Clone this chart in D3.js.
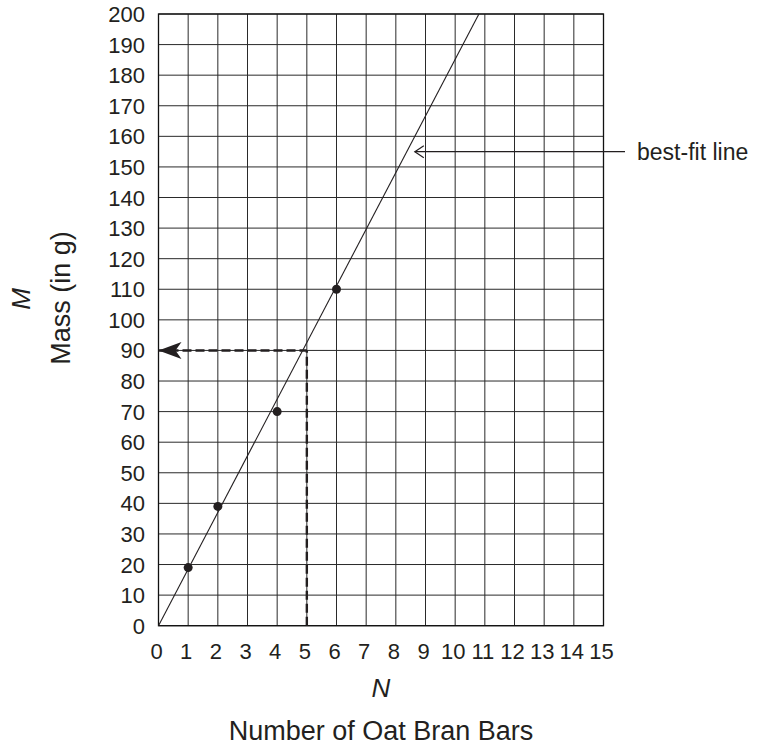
<!DOCTYPE html>
<html>
<head>
<meta charset="utf-8">
<script src="https://cdn.jsdelivr.net/npm/d3@7"></script>
<style>
  body { margin: 0; background: #fff; }
  text { font-family: "Liberation Sans", Arial, Helvetica, sans-serif; fill: #231f20; }
</style>
</head>
<body>
<div id="main"></div>
<script>
// data
const barCounts = [1, 2, 4, 6];
const massValues = [19, 39, 70, 110];
const xTickLabels = [0, 1, 2, 3, 4, 5, 6, 7, 8, 9, 10, 11, 12, 13, 14, 15];
const yTickLabels = [0, 10, 20, 30, 40, 50, 60, 70, 80, 90, 100, 110, 120, 130, 140, 150, 160, 170, 180, 190, 200];
const bestFitN = [0, 10.8];
const bestFitM = [0, 200];
const readN = 5;      // dashed read-off
const readM = 90;
const calloutM = 155; // "best-fit line" pointer

const ctx = {
    width: 768,
    height: 745,
    left: 158.5,
    right: 603.5,
    top: 14,
    bottom: 625.7,
};

let x = d3.scaleLinear().domain([0, 15]).range([ctx.left, ctx.right]);
let y = d3.scaleLinear().domain([0, 200]).range([ctx.bottom, ctx.top]);

function drawChart() {
    let svg = d3.select("#main").append("svg")
        .attr("width", ctx.width)
        .attr("height", ctx.height);

    svg.append("rect").attr("width", ctx.width).attr("height", ctx.height).attr("fill", "#fff");

    // grid
    let grid = svg.append("g");
    grid.selectAll("line.v")
        .data(xTickLabels)
        .enter().append("line")
        .attr("x1", d => x(d)).attr("x2", d => x(d))
        .attr("y1", y(0)).attr("y2", y(200))
        .attr("stroke", "#2a2a2a").attr("stroke-width", 1);
    grid.selectAll("line.h")
        .data(yTickLabels)
        .enter().append("line")
        .attr("x1", x(0)).attr("x2", x(15))
        .attr("y1", d => y(d)).attr("y2", d => y(d))
        .attr("stroke", "#2a2a2a").attr("stroke-width", 1);

    // frame, a bit heavier
    svg.append("rect")
        .attr("x", x(0)).attr("y", y(200))
        .attr("width", x(15) - x(0)).attr("height", y(0) - y(200))
        .attr("fill", "none").attr("stroke", "#111").attr("stroke-width", 1.3);

    // tick labels
    svg.append("g").selectAll("text")
        .data(xTickLabels)
        .enter().append("text")
        .attr("x", d => x(d) - 2)
        .attr("y", 659)
        .attr("text-anchor", "middle")
        .attr("font-size", 22)
        .text(d => d);

    svg.append("g").selectAll("text")
        .data(yTickLabels)
        .enter().append("text")
        .attr("x", 145)
        .attr("y", d => y(d) + 8)
        .attr("text-anchor", "end")
        .attr("font-size", 22)
        .text(d => d);

    // best-fit line
    let line = d3.line().x(d => x(d[0])).y(d => y(d[1]));
    svg.append("path")
        .datum(d3.zip(bestFitN, bestFitM))
        .attr("d", line)
        .attr("fill", "none")
        .attr("stroke", "#231f20")
        .attr("stroke-width", 1.1);

    // dashed read-off
    svg.append("path")
        .datum([[readN, 0], [readN, readM]])
        .attr("d", line)
        .attr("fill", "none").attr("stroke", "#231f20")
        .attr("stroke-width", 2.4).attr("stroke-dasharray", "9,4");
    svg.append("path")
        .datum([[0, readM], [readN, readM]])
        .attr("d", line)
        .attr("fill", "none").attr("stroke", "#231f20")
        .attr("stroke-width", 2.4).attr("stroke-dasharray", "9,4")
        .attr("stroke-dashoffset", 2);
    // arrowhead at the axis
    svg.append("path")
        .attr("d", `M${x(0)},${y(readM)} L${x(0) + 23},${y(readM) - 8.5} L${x(0) + 17},${y(readM)} L${x(0) + 23},${y(readM) + 8.5} Z`)
        .attr("fill", "#231f20");

    // data points
    svg.append("g").selectAll("circle")
        .data(d3.zip(barCounts, massValues))
        .enter().append("circle")
        .attr("cx", d => x(d[0]))
        .attr("cy", d => y(d[1]))
        .attr("r", 4.5)
        .attr("fill", "#231f20");

    // callout
    let cy = y(calloutM);
    let tipX = x(calloutM / (bestFitM[1] / bestFitN[1])) + 8;
    svg.append("line")
        .attr("x1", tipX).attr("x2", 625)
        .attr("y1", cy).attr("y2", cy)
        .attr("stroke", "#231f20").attr("stroke-width", 1.2);
    svg.append("path")
        .attr("d", `M${tipX + 9},${cy - 6} L${tipX},${cy} L${tipX + 9},${cy + 6}`)
        .attr("fill", "none").attr("stroke", "#231f20").attr("stroke-width", 1.2);
    svg.append("text")
        .attr("x", 637).attr("y", cy + 8)
        .attr("font-size", 23)
        .text("best-fit line");

    // axis titles
    svg.append("text")
        .attr("x", 381).attr("y", 697)
        .attr("text-anchor", "middle")
        .attr("font-size", 26)
        .attr("font-style", "italic")
        .text("N");
    svg.append("text")
        .attr("x", 381).attr("y", 740)
        .attr("text-anchor", "middle")
        .attr("font-size", 27)
        .text("Number of Oat Bran Bars");

    svg.append("text")
        .attr("transform", "translate(30,299) rotate(-90)")
        .attr("text-anchor", "middle")
        .attr("font-size", 26)
        .attr("font-style", "italic")
        .text("M");
    svg.append("text")
        .attr("transform", "translate(70,298) rotate(-90)")
        .attr("text-anchor", "middle")
        .attr("font-size", 27)
        .text("Mass (in g)");
}

drawChart();
</script>
</body>
</html>
